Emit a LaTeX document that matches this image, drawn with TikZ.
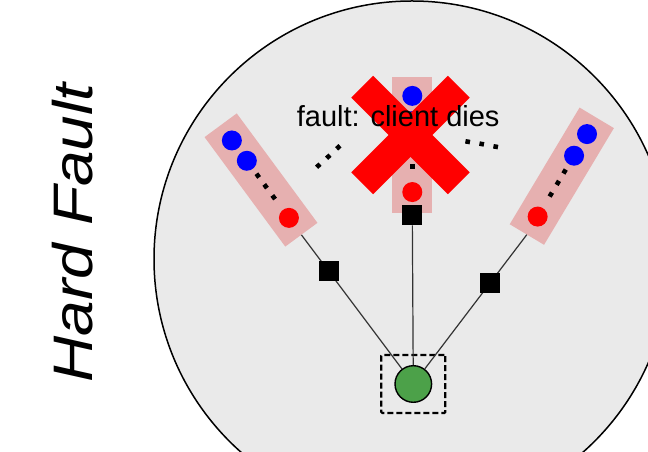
\documentclass[tikz,border=0pt]{standalone}
\usepackage{fontspec}
\setmainfont{Liberation Sans}
\usetikzlibrary{calc,fit}

\definecolor{stackpink}{RGB}{230,176,176}
\definecolor{ringgray}{RGB}{234,234,234}
\definecolor{clientgreen}{RGB}{76,161,73}

\tikzset{
  stack/.style={rectangle, fill=stackpink, minimum width=40pt, minimum height=136pt, inner sep=0pt},
  ball/.style={circle, minimum size=20pt, inner sep=0pt},
  dotsq/.style={rectangle, fill=black, minimum size=4.6pt, inner sep=0pt},
  blk/.style={rectangle, fill=black, minimum size=20pt, inner sep=0pt},
  xbar/.style={rectangle, fill=red, minimum width=136.5pt, minimum height=31pt, inner sep=0pt},
  conn/.style={draw=black!80, line width=1.2pt}
}

\begin{document}
\begin{tikzpicture}[x=1pt, y=1pt]
  \useasboundingbox (0,0) rectangle (648,452);
  \clip (0,0) rectangle (648,452);
  \node[circle, draw=black, fill=ringgray, line width=1.5pt, minimum size=516pt, inner sep=0pt] (ring) at (412,193) {};

  \node[rotate=90, anchor=base] (title) at (92,219)
    {\scalebox{1}[0.87]{\fontsize{64}{70}\selectfont\itshape Hard Fault}};

  \node[stack, rotate=36.4] (lst) at (261,272) {};
  \node[stack] (mst) at (412.3,307) {};
  \node[stack, rotate=-30.9] (rst) at (561.8,275.8) {};

  \node[circle, draw=black, fill=clientgreen, line width=1.4pt, minimum size=36.6pt, inner sep=0pt] (client) at (413.3,68) {};
  \node[draw=black, line width=2.2pt, dash pattern=on 6pt off 3pt, rounded corners=1pt,
        fit=(client), inner xsep=13pt, inner ysep=10pt] (sandbox) {};

  \draw[conn] (lst.south) -- node[blk, pos=0.27] (lsq) {} (client);
  \draw[conn] (rst.south) -- node[blk, pos=0.36] (rsq) {} (client);
  \node[blk] (msq) at ([yshift=-2pt]mst.south) {};
  \draw[conn] (msq) -- (client);

  \foreach \s/\a in {lst/36.4, mst/0, rst/-30.9} {
    \node[ball, fill=blue] (\s-b1) at ($(\s.north)!0.14!(\s.south)$) {};
    \node[ball, fill=blue] (\s-b2) at ($(\s.north)!0.325!(\s.south)$) {};
    \foreach \t [count=\i] in {0.46,0.557,0.657}
      \node[dotsq, rotate=\a] (\s-d\i) at ($(\s.north)!\t!(\s.south)$) {};
    \node[ball, fill=red] (\s-r) at ($(\s.north)!0.845!(\s.south)$) {};
  }

  \node[dotsq, rotate=42.6] (ld1) at (318.3,286.3) {};
  \node[dotsq, rotate=42.6] (ld2) at (328.3,295.3) {};
  \node[dotsq, rotate=42.6] (ld3) at (338.3,304.7) {};
  \node[dotsq, rotate=-10] (rd1) at (467.7,310.3) {};
  \node[dotsq, rotate=-10] (rd2) at (481.7,308) {};
  \node[dotsq, rotate=-10] (rd3) at (495.7,305.3) {};

  \node[xbar, rotate=45] (xa) at (410.5,317) {};
  \node[xbar, rotate=-45] (xb) at (410.5,317) {};

  \node[anchor=base, inner sep=0pt, font=\fontsize{29}{34}\selectfont] (fault) at (398.2,325.3) {fault: client dies};
\end{tikzpicture}
\end{document}
